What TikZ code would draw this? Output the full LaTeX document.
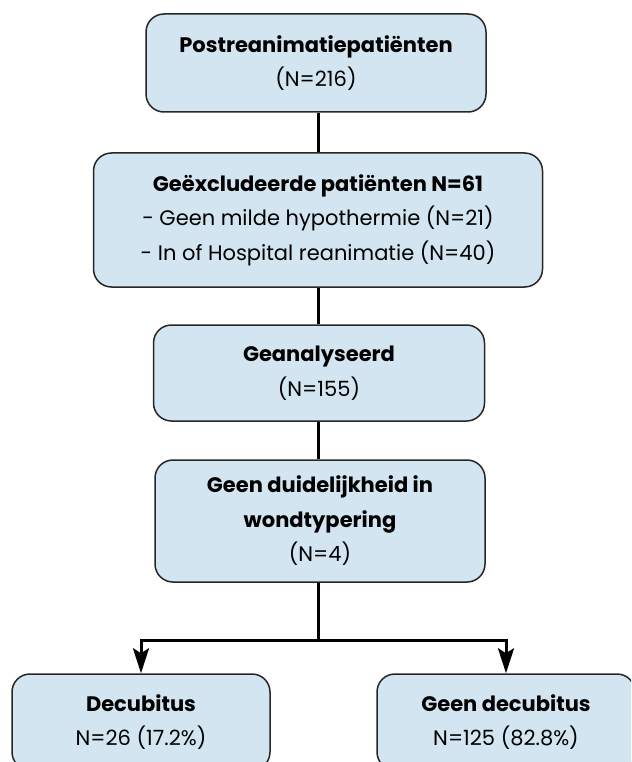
\documentclass[tikz,border=0pt]{standalone}
\usepackage{fontspec}
\setmainfont{Poppins}
\usetikzlibrary{arrows.meta}
\definecolor{boxblue}{RGB}{210,229,240}

\tikzset{
  flowbox/.style={draw=black!85, fill=boxblue, line width=1.5pt, rounded corners=18pt,
    align=center, text centered, inner sep=0pt,
    font=\fontsize{21}{34.5}\selectfont},
  link/.style={line width=3pt},
  arrowlink/.style={line width=3pt, -{Stealth[length=25pt, width=16pt, inset=5pt]}}
}

\begin{document}
\begin{tikzpicture}[x=1pt, y=-1pt]
    \clip (0,0) rectangle (631,762);
    \useasboundingbox (0,0) rectangle (631,762);

    \node[flowbox, minimum width=340pt, minimum height=98pt] (post) at (316, 63)
      {\textbf{Postreanimatiepatiënten}\\(N=216)};
    \node[flowbox, minimum width=449pt, minimum height=134pt] (excl) at (318, 220)
      {\textbf{Geëxcludeerde patiënten N=61}\\- Geen milde hypothermie (N=21)\\- In of Hospital reanimatie (N=40)};
    \node[flowbox, minimum width=331pt, minimum height=96pt] (anal) at (319, 373)
      {\textbf{Geanalyseerd}\\(N=155)};
    \node[flowbox, minimum width=330pt, minimum height=122pt] (geen) at (320, 521)
      {\textbf{Geen duidelijkheid in}\\\textbf{wondtypering}\\(N=4)};

    \node[flowbox, minimum width=258pt, minimum height=96pt] (decu) at (141, 722)
      {\textbf{Decubitus}\\N=26 (17.2\%)};
    \node[flowbox, minimum width=258pt, minimum height=96pt] (nodecu) at (506, 722)
      {\textbf{Geen decubitus}\\N=125 (82.8\%)};

    \coordinate (split) at (318, 640);

    \draw[link] (post.south -| split) -- (excl.north -| split);
    \draw[link] (excl.south -| split) -- (anal.north -| split);
    \draw[link] (anal.south -| split) -- (geen.north -| split);
    \draw[link] (geen.south -| split) -- (split);
    \draw[arrowlink] (split) -| (decu.north);
    \draw[arrowlink] (split) -| (nodecu.north);
\end{tikzpicture}
\end{document}
